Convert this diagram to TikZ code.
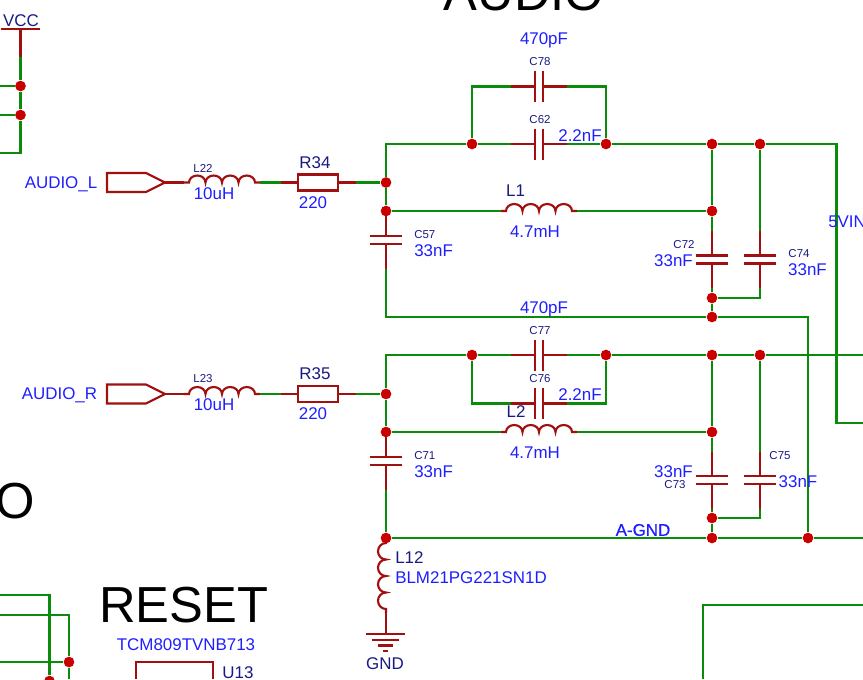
\documentclass[tikz,border=0pt]{standalone}
\usepackage{fontspec}
\setmainfont{Liberation Sans}
\newfontfamily\netfont[FakeBold=0.7]{Liberation Sans}
\usepackage{color}
\definecolor{wirecol}{RGB}{10,140,10}
\definecolor{leadcol}{RGB}{160,16,16}
\definecolor{dotcol}{RGB}{200,0,0}
\definecolor{valcol}{RGB}{30,30,255}
\definecolor{refcol}{RGB}{25,25,130}
\newcommand{\capH}[3]{
    \coordinate (#1l) at (#2-28,#3);
    \coordinate (#1r) at (#2+28,#3);
    \draw[lead] (#1l)--(#2-4,#3) (#2-4,#3-15.5)--(#2-4,#3+15.5) (#2+4,#3-15.5)--(#2+4,#3+15.5) (#2+4,#3)--(#1r);
}
\newcommand{\capV}[3]{
    \coordinate (#1t) at (#2,#3-28.5);
    \coordinate (#1b) at (#2,#3+28.5);
    \draw[lead] (#1t)--(#2,#3-4) (#2-16,#3-4)--(#2+16,#3-4) (#2-16,#3+4)--(#2+16,#3+4) (#2,#3+4)--(#1b);
}
\newcommand{\coilH}[3]{
    \coordinate (#1l) at (#2,#3);
    \coordinate (#1r) at (#2+76,#3);
    \draw[lead] (#1l)--(#2+5,#3) arc[start angle=180,end angle=360,x radius=8.25,y radius=7]
        arc[start angle=180,end angle=360,x radius=8.25,y radius=7]
        arc[start angle=180,end angle=360,x radius=8.25,y radius=7]
        arc[start angle=180,end angle=360,x radius=8.25,y radius=7]--(#1r);
}
\newcommand{\coilV}[3]{
    \coordinate (#1b) at (#2,#3+70);
    \draw[lead] (#2,#3) arc[start angle=270,end angle=90,x radius=8,y radius=8.25]
        arc[start angle=270,end angle=90,x radius=8,y radius=8.25]
        arc[start angle=270,end angle=90,x radius=8,y radius=8.25]
        arc[start angle=270,end angle=90,x radius=8,y radius=8.25]--(#1b);
}
\newcommand{\resH}[3]{
    \coordinate (#1l) at (#2-37,#3);
    \coordinate (#1r) at (#2+38,#3);
    \draw[lead] (#1l)--(#2-20,#3) (#2-20,#3-8) rectangle (#2+20,#3+8) (#2+20,#3)--(#1r);
}
\newcommand{\portH}[2]{
    \coordinate (#1) at (165,#2);
    \draw[lead] (107,#2-9.5)--(146,#2-9.5)--(#1)--(146,#2+9.5)--(107,#2+9.5)--cycle;
}
\begin{document}
\begin{tikzpicture}[x=0.75pt,y=-0.75pt,
    wire/.style={draw=wirecol,line width=1.8pt},
    lead/.style={draw=leadcol,line width=1.6pt},
    dot/.style={circle,fill=dotcol,inner sep=0pt,minimum size=8pt},
    val/.style={text=valcol,inner sep=0pt,yshift=-0.75pt,font=\fontsize{12.7}{14}\selectfont},
    ref/.style={text=refcol,inner sep=0pt,yshift=-0.75pt,font=\fontsize{12.7}{14}\selectfont},
    sref/.style={text=refcol,inner sep=0pt,yshift=-0.75pt,font=\fontsize{8.6}{10}\selectfont},
    head/.style={text=black,inner sep=0pt,font=\fontsize{38}{40}\selectfont},
    ]
    \useasboundingbox (0,0) rectangle (863,679);
    % headings
    \node[head,anchor=base] (hAudio) at (524,10) {AUDIO};
    \node[head,anchor=base east] (hO) at (35,518) {O};
    \node[head] (hReset) at (183.5,605) {RESET};
    % VCC corner
    \node[ref] (tVCC) at (21,20) {VCC};
    \node[dot] (jVa) at (20.5,86) {};
    \node[dot] (jVb) at (20.5,115) {};
    \coordinate (vccA) at (1,29);
    \coordinate (vccB) at (40,29);
    \coordinate (vccC) at (20.5,29);
    \coordinate (vccD) at (20.5,57);
    \coordinate (eVa) at (0,86);
    \coordinate (eVb) at (0,115);
    \coordinate (eVc) at (0,153);
    \draw[lead] (vccA)--(vccB) (vccC)--(vccD);
    \draw[wire] (vccD)--(jVa);
    \draw[wire] (jVa)--(jVb);
    \draw[wire] (eVa)--(jVa);
    \draw[wire] (eVb)--(jVb);
    \draw[wire] (jVb)|-(eVc);
    % left channel
    \portH{portL}{182.5}
    \coilH{Lb}{184}{182.5}
    \resH{Ra}{318}{182.5}
    \capH{Ca}{539}{86.5}
    \capH{Cb}{539}{144}
    \coilH{La}{501}{211}
    \capV{Cc}{386}{240}
    \capV{Cd}{712}{259.5}
    \capV{Ce}{760}{259.5}
    \node[dot] (jRa) at (386,182.5) {};
    \node[dot] (jLa) at (386,211) {};
    \node[dot] (jCa) at (472,144) {};
    \node[dot] (jCb) at (606,144) {};
    \node[dot] (jCd) at (712,144) {};
    \node[dot] (jCe) at (760,144) {};
    \node[dot] (jLb) at (712,211) {};
    \node[dot] (jCf) at (712,298) {};
    \node[dot] (jRet) at (712,317) {};
    \coordinate (cVin) at (836.5,423);
    \coordinate (eVin) at (863,423);
    \draw[lead] (portL)--(Lbl);
    \draw[wire] (Lbr)--(Ral);
    \draw[wire] (Rar)--(jRa);
    \draw[wire] (jRa)|-(jCa);
    \draw[wire] (jRa)--(jLa);
    \draw[wire] (jLa)--(Lal);
    \draw[wire] (Lar)--(jLb);
    \draw[wire] (jCa)|-(Cal);
    \draw[wire] (Car)-|(jCb);
    \draw[wire] (jCa)--(Cbl);
    \draw[wire] (Cbr)--(jCb);
    \draw[wire] (jCb)--(jCd);
    \draw[wire] (jCd)--(jCe);
    \draw[wire] (jCe)-|(cVin)--(eVin);
    \draw[wire] (jCd)--(jLb);
    \draw[wire] (jLb)--(Cdt);
    \draw[wire] (Cdb)--(jCf);
    \draw[wire] (jCf)--(jRet);
    \draw[wire] (jCe)--(Cet);
    \draw[wire] (Ceb)|-(jCf);
    \draw[wire] (Ccb)|-(jRet);
    % right channel
    \portH{portR}{394}
    \coilH{Ld}{184}{394}
    \resH{Rb}{318}{394}
    \capH{Cg}{539}{355}
    \capH{Ch}{539}{403.5}
    \coilH{Lc}{501}{432}
    \capV{Ci}{386}{461}
    \capV{Cj}{712}{480}
    \capV{Ck}{760}{480}
    \coilV{Le}{386}{543}
    \node[dot] (jRb) at (386,394) {};
    \node[dot] (jLc) at (386,432) {};
    \node[dot] (jCg) at (472,355) {};
    \node[dot] (jCh) at (606,355) {};
    \node[dot] (jCj) at (712,355) {};
    \node[dot] (jCk) at (760,355) {};
    \node[dot] (jLd) at (712,432) {};
    \node[dot] (jCl) at (712,518) {};
    \node[dot] (jAg) at (712,538) {};
    \node[dot] (jGnd) at (386,538) {};
    \node[dot] (jRt) at (808,538) {};
    \coordinate (eRail) at (863,355);
    \coordinate (eGnd) at (863,538);
    \draw[lead] (portR)--(Ldl);
    \draw[wire] (Ldr)--(Rbl);
    \draw[wire] (Rbr)--(jRb);
    \draw[wire] (jRb)|-(jCg);
    \draw[wire] (jRb)--(jLc);
    \draw[wire] (jLc)--(Lcl);
    \draw[wire] (Lcr)--(jLd);
    \draw[wire] (jCg)--(Cgl);
    \draw[wire] (Cgr)--(jCh);
    \draw[wire] (jCg)|-(Chl);
    \draw[wire] (Chr)-|(jCh);
    \draw[wire] (jCh)--(jCj);
    \draw[wire] (jCj)--(jCk);
    \draw[wire] (jCk)--(eRail);
    \draw[wire] (jCj)--(jLd);
    \draw[wire] (jLd)--(Cjt);
    \draw[wire] (Cjb)--(jCl);
    \draw[wire] (jCl)--(jAg);
    \draw[wire] (jCk)--(Ckt);
    \draw[wire] (Ckb)|-(jCl);
    \draw[wire] (Cib)--(jGnd);
    \draw[wire] (jGnd)--(jAg);
    \draw[wire] (jAg)--(jRt);
    \draw[wire] (jRt)--(eGnd);
    \draw[wire] (jRet)-|(jRt);
    % ground symbol
    \coordinate (gTop) at (386,634);
    \draw[lead] (jGnd)--(386,543);
    \draw[lead] (Leb)--(gTop);
    \draw[lead] (366,634)--(405,634) (372,640)--(399,640) (378,645.5)--(393,645.5) (383,651)--(388,651);
    \node[ref] (tGND) at (385,663) {GND};
    % lower corners
    \node[dot] (jBa) at (69,662) {};
    \node[dot] (jBb) at (49.5,681) {};
    \coordinate (eBa) at (0,595);
    \coordinate (eBb) at (0,615);
    \coordinate (eBc) at (0,662);
    \coordinate (eBd) at (69,679);
    \coordinate (eBe) at (703,679);
    \coordinate (eBf) at (863,605);
    \draw[wire] (eBa)-|(jBb);
    \draw[wire] (eBb)-|(jBa);
    \draw[wire] (eBc)--(jBa);
    \draw[wire] (jBa)--(eBd);
    \draw[wire] (eBe)|-(eBf);
    \draw[lead] (136,679)--(136,662)--(213,662)--(213,679);
    \node[val] (tTCM) at (186,644) {TCM809TVNB713};
    \node[ref] (tU) at (238,672) {U13};
    % labels
    \node[val] (tAL) at (61,183) {AUDIO\_L};
    \node[val] (tAR) at (59.5,394) {AUDIO\_R};
    \node[sref] (tLb) at (203,167) {L22};
    \node[val] (vLb) at (214,193) {10uH};
    \node[ref] (tRa) at (315,162) {R34};
    \node[val] (vRa) at (313,202) {220};
    \node[sref,anchor=west] (tCc) at (414,234) {C57};
    \node[val,anchor=west] (vCc) at (414,250) {33nF};
    \node[val] (vCa) at (544,39) {470pF};
    \node[sref] (tCa) at (540,61) {C78};
    \node[sref] (tCb) at (540,119) {C62};
    \node[val] (vCb) at (580,135) {2.2nF};
    \node[ref] (tLa) at (515.5,190) {L1};
    \node[val] (vLa) at (535,231) {4.7mH};
    \node[sref] (tCd) at (684,244) {C72};
    \node[val] (vCd) at (673.5,260) {33nF};
    \node[sref] (tCe) at (799,253) {C74};
    \node[val] (vCe) at (807.5,269) {33nF};
    \node[val,anchor=west] (tVin) at (828,221) {5VIN};
    \node[val] (vCg) at (544,308) {470pF};
    \node[sref] (tCg) at (540,330) {C77};
    \node[sref] (tLd) at (203,378) {L23};
    \node[val] (vLd) at (214,404) {10uH};
    \node[ref] (tRb) at (315,373) {R35};
    \node[val] (vRb) at (313,413) {220};
    \node[sref,anchor=west] (tCi) at (414,455) {C71};
    \node[val,anchor=west] (vCi) at (414,471) {33nF};
    \node[sref] (tCh) at (540,378) {C76};
    \node[val] (vCh) at (580,394) {2.2nF};
    \node[ref] (tLc) at (516,411) {L2};
    \node[val] (vLc) at (535,452) {4.7mH};
    \node[val] (vCj) at (673.5,471) {33nF};
    \node[sref] (tCj) at (675,484) {C73};
    \node[sref] (tCk) at (780,455) {C75};
    \node[val] (vCk) at (798,481) {33nF};
    \node[val,font=\fontsize{12.7}{14}\selectfont\netfont] (tAg) at (643,529) {A-GND};
    \node[ref,anchor=west] (tLe) at (395,557) {L12};
    \node[val,anchor=west] (vLe) at (395,577) {BLM21PG221SN1D};
\end{tikzpicture}
\end{document}
